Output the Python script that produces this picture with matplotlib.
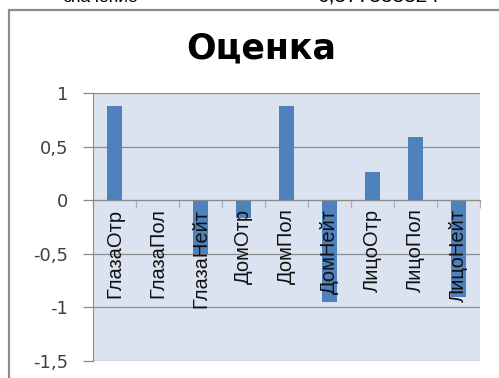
import numpy as np
import matplotlib.pyplot as plt
from matplotlib.patches import Rectangle

# scores per category
categories = ['ГлазаОтр', 'ГлазаПол', 'ГлазаНейт', 'ДомОтр', 'ДомПол',
              'ДомНейт', 'ЛицоОтр', 'ЛицоПол', 'ЛицоНейт']
scores = [0.88, 0.0, -0.5, -0.17, 0.88, -0.95, 0.26, 0.59, -0.9]
yticks = [1, 0.5, 0, -0.5, -1, -1.5]
ytick_labels = ['1', '0,5', '0', '-0,5', '-1', '-1,5']

plt.rcParams['font.family'] = ['Liberation Sans', 'DejaVu Sans']

fig = plt.figure(figsize=(4.99, 3.78), dpi=100)
fig.patch.set_facecolor('white')

# chart frame
fig.patches.append(Rectangle((9 / 499, -0.05), 1.2, 1 - 10 / 378 + 0.05,
                             transform=fig.transFigure, facecolor='white',
                             edgecolor='#8c8c8c', linewidth=1.6, zorder=0))

# row of a table cut off above the chart
fig.text(101 / 499, 1 - 2 / 378, 'значение', ha='center', va='baseline',
         fontsize=12.5, color='black')
fig.text(378 / 499, 1 - 2 / 378, '0,377333324', ha='center', va='baseline',
         fontsize=15, color='black')

ax = fig.add_axes([93 / 499, 1 - 361 / 378, (480 - 93) / 499, (361 - 93) / 378])
ax.set_zorder(2)
ax.set_facecolor('#dce3f0')

x = np.arange(len(categories))
ax.bar(x, scores, width=0.37, color='#4f81bd', zorder=2)

ax.set_xlim(-0.5, len(categories) - 0.5)
ax.set_ylim(-1.5, 1)
ax.set_yticks(yticks)
ax.set_yticklabels(ytick_labels, fontsize=13, color='#404040',
                   family='DejaVu Sans')
ax.yaxis.grid(True, color='#8a8a8a', linewidth=0.9)
ax.set_axisbelow(True)
ax.tick_params(axis='y', length=7, width=0.9, color='#8a8a8a', pad=11)

# category axis runs through zero, names sit just under it
ax.spines['bottom'].set_position(('data', 0))
ax.spines['bottom'].set_color('#8a8a8a')
ax.spines['left'].set_color('#8a8a8a')
ax.spines['top'].set_visible(False)
ax.spines['right'].set_visible(False)
ax.set_xticks(x)
ax.set_xticklabels([])
ax.set_xticks(np.arange(len(categories) + 1) - 0.5, minor=True)
ax.tick_params(axis='x', which='major', length=0)
ax.tick_params(axis='x', which='minor', length=6, width=0.9, color='#b0b0b0')
for xi, name in zip(x, categories):
    ax.annotate(name, (xi, 0), xytext=(0, -6), textcoords='offset points',
                rotation=90, ha='center', va='top', fontsize=14.5,
                color='#111111', zorder=5)

fig.text(261 / 499, 1 - 48 / 378, 'Оценка', ha='center', va='center',
         fontsize=25, fontweight='bold', color='black', family='DejaVu Sans')

fig.savefig('out.png', dpi=100)
